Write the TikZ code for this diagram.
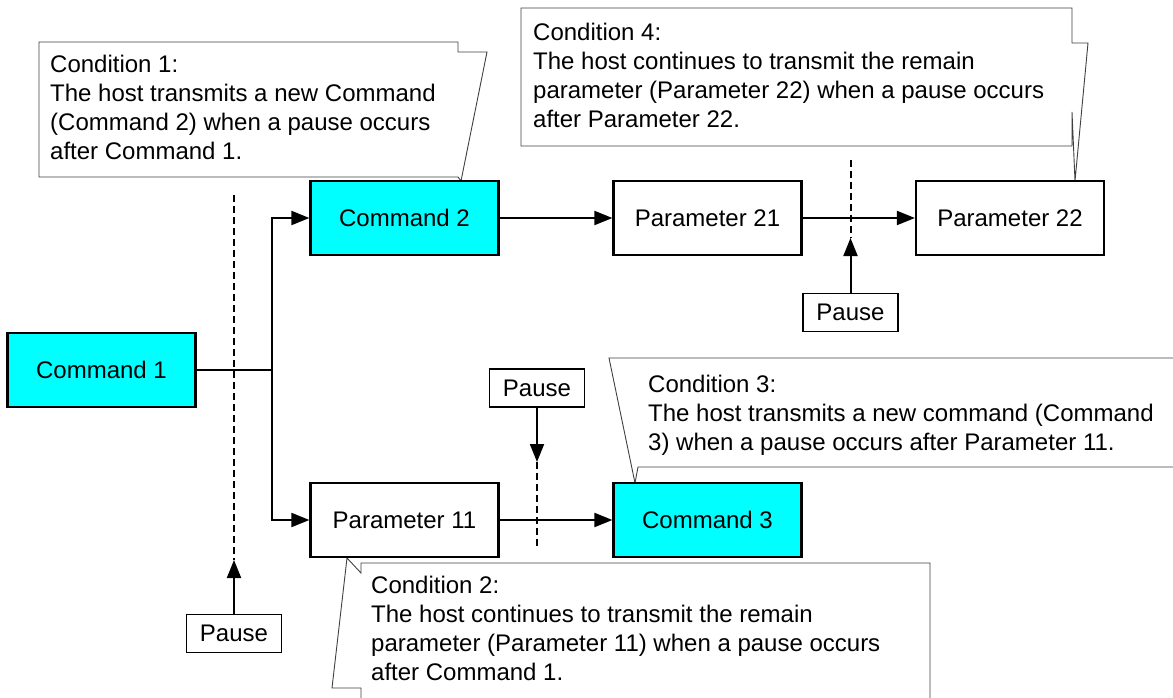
\documentclass[tikz,border=0pt]{standalone}
\usepackage{fontspec}
\setmainfont{Liberation Sans}
\usetikzlibrary{arrows.meta}
\definecolor{boxcyan}{HTML}{00FFFF}
\definecolor{calloutgray}{HTML}{404040}
\begin{document}
\begin{tikzpicture}[x=1pt,y=-1pt,
  txt/.style={font=\fontsize{24}{29}\selectfont},
  stepbox/.style={draw=black, line width=2.2pt, minimum width=188pt, minimum height=74pt, inner sep=0pt, txt},
  cmdbox/.style={stepbox, fill=boxcyan},
  parbox/.style={stepbox, fill=white},
  pausebox/.style={draw=black, line width=1.8pt, fill=white, minimum width=95pt, minimum height=38pt, inner sep=0pt, txt},
  conn/.style={line width=2pt, draw=black},
  arr/.style={conn, -{Triangle[length=18pt,width=14pt]}},
  pauseline/.style={line width=2pt, dash pattern=on 7pt off 4pt},
  callout/.style={draw=calloutgray, line width=0.9pt, fill=white, line join=miter},
  ctext/.style={txt, anchor=base west, align=left, inner sep=0pt}
]
\useasboundingbox (0,0) rectangle (1173,698);

% callouts
\draw[callout] (39,42) -- (458,42) -- (458,52) -- (487,52) -- (461,181) -- (458,177) -- (39,177) -- cycle;
\draw[callout] (521,8) -- (1072,8) -- (1072,43) -- (1088,43) -- (1075,181) -- (1072,112) -- (1072,146) -- (521,146) -- cycle;
\draw[callout] (1175,358) -- (609,358) -- (635,483) -- (638,467) -- (1175,467);
\draw[callout] (930,700) -- (930,563) -- (361,563) -- (361,573) -- (347,558) -- (332,688) -- (361,688) -- (361,700);

% callout texts (anchor = baseline of the last line)
\node[ctext] (t1) at (50,160) {Condition 1:\\The host transmits a new Command\\(Command 2) when a pause occurs\\after Command 1.};
\node[ctext] (t4) at (533,128) {Condition 4:\\The host continues to transmit the remain\\parameter (Parameter 22) when a pause occurs\\after Parameter 22.};
\node[ctext] (t3) at (648,450) {Condition 3:\\The host transmits a new command (Command\\3) when a pause occurs after Parameter 11.};
\node[ctext] (t2) at (371,680) {Condition 2:\\The host continues to transmit the remain\\parameter (Parameter 11) when a pause occurs\\after Command 1.};

% boxes
\node[cmdbox] (c1) at (101.5,370) {Command 1};
\node[cmdbox] (c2) at (404.5,218) {Command 2};
\node[parbox] (p21) at (707.5,218) {Parameter 21};
\node[parbox] (p22) at (1010,218) {Parameter 22};
\node[parbox] (p11) at (404.5,520) {Parameter 11};
\node[cmdbox] (c3) at (707.5,520) {Command 3};

\node[pausebox] (pz1) at (234,633.5) {Pause};
\node[pausebox] (pz2) at (850.5,312.5) {Pause};
\node[pausebox] (pz3) at (537,388) {Pause};

% connectors
\coordinate (jn) at (272,370);
\draw[conn] (c1.east) -- (jn);
\draw[arr] (jn) |- (c2.west);
\draw[arr] (jn) |- (p11.west);
\draw[arr] (c2.east) -- (p21.west);
\draw[arr] (p21.east) -- (p22.west);
\draw[arr] (p11.east) -- (c3.west);

% pause markers
\coordinate (d1top) at (234,195);
\coordinate (d1end) at (234,560);
\draw[pauseline] (d1top) -- (d1end);
\draw[arr] (pz1.north) -- (d1end);

\coordinate (d2top) at (850.5,160);
\coordinate (d2end) at (850.5,238);
\draw[pauseline] (d2top) -- (d2end);
\draw[arr] (pz2.north) -- (d2end);

\coordinate (d3top) at (537,462);
\coordinate (d3end) at (537,548);
\draw[pauseline] (d3top) -- (d3end);
\draw[arr] (pz3.south) -- (d3top);
\end{tikzpicture}
\end{document}
